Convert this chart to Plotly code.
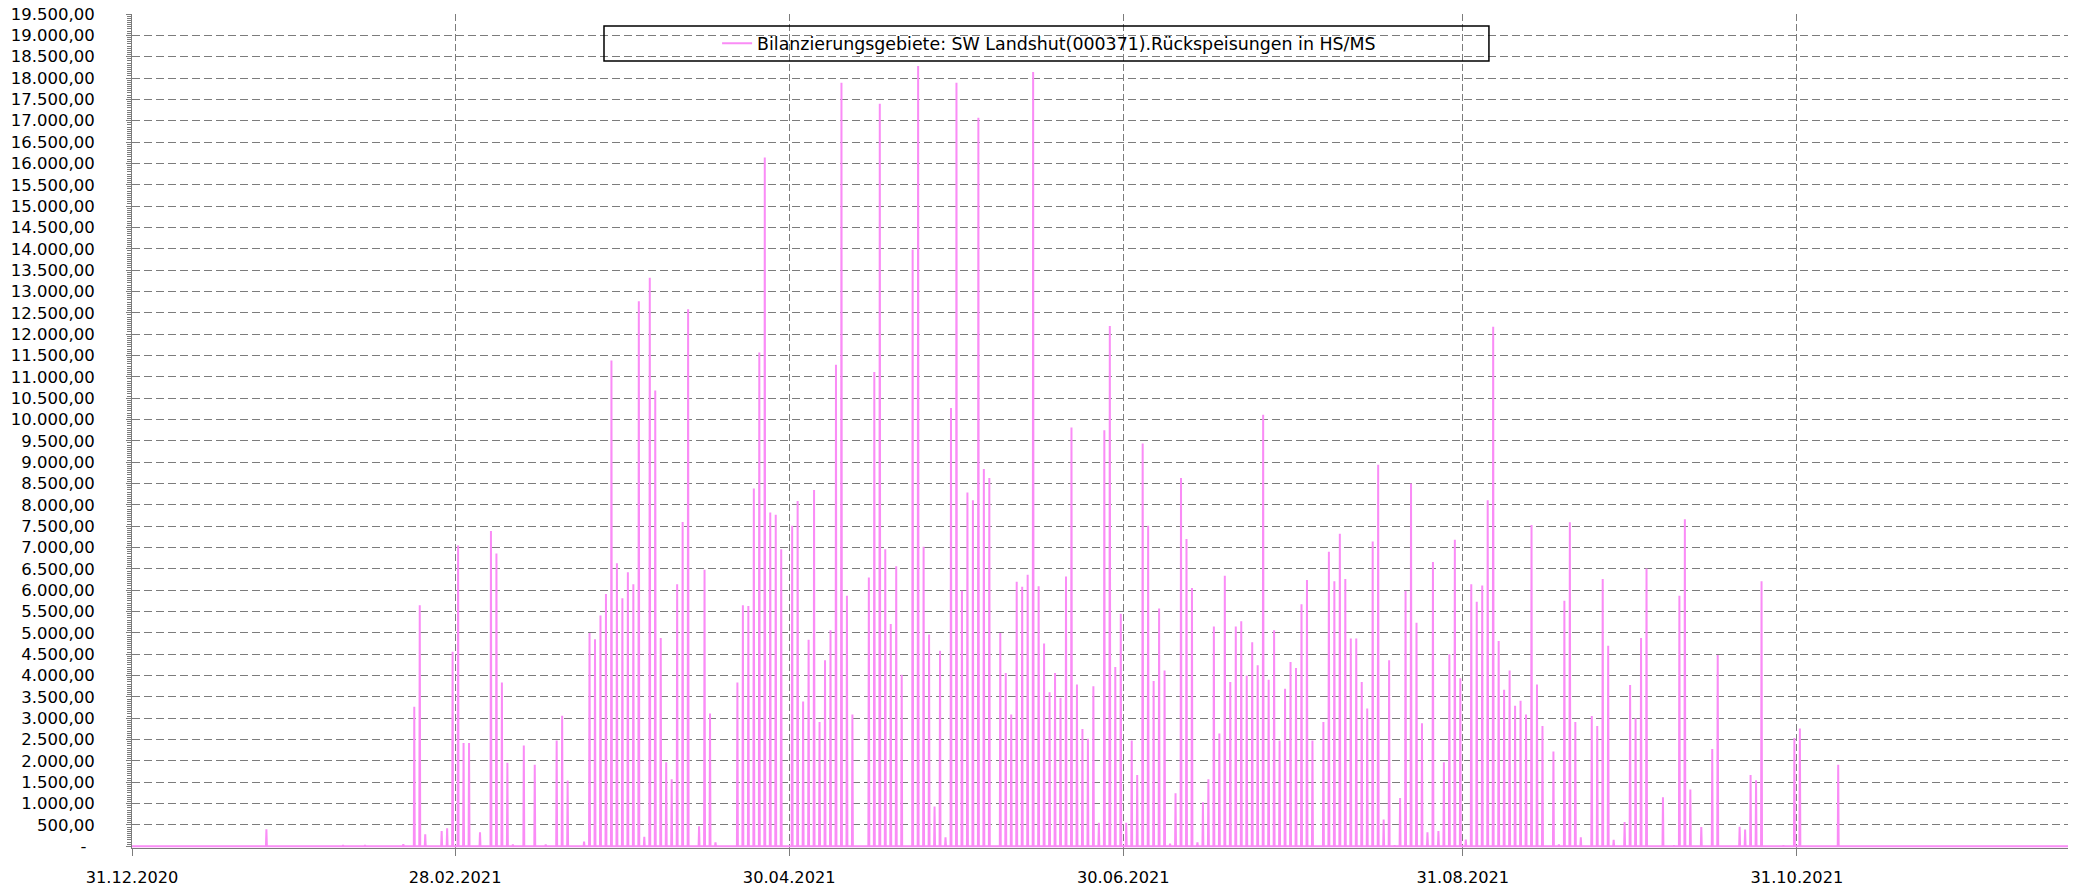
import datetime as dt
import plotly.graph_objects as go

# ---------------- data: daily peak feed-back values (kW) per month ----------------
series_name = "Bilanzierungsgebiete: SW Landshut(000371).Rückspeisungen in HS/MS"

axis_start = "2020-12-31 00:00"
axis_end = "2021-12-19 12:00"

jan_2021 = [0, 0, 0, 0, 0, 0, 0, 0, 0, 0, 0, 0, 0, 0, 0, 0, 0, 0, 0, 0,
            0, 0, 0, 400, 0, 0, 0, 0, 0, 0, 0]
feb_2021 = [0, 0, 0, 0, 0, 0, 30, 0, 0, 0, 30, 0, 0, 0, 0, 0, 0, 50, 0, 3270,
            5650, 280, 0, 0, 360, 420, 4560, 7050]
mar_2021 = [2420, 2420, 0, 330, 0, 7390, 6860, 3840, 1960, 40, 0, 2360, 0, 1910, 0,
            40, 0, 2480, 3060, 1540, 0, 0, 110, 5000, 4850, 5410, 5910, 11380, 6630, 5810, 6420]
apr_2021 = [6140, 12770, 220, 13320, 10680, 4880, 1970, 1570, 6140, 7600, 12580, 0, 470, 6480, 3110,
            90, 0, 0, 0, 3840, 5650, 5630, 8380, 11570, 16140, 7820, 7770, 6960, 0, 7510]
may_2021 = [8090, 3390, 4840, 8350, 2910, 4360, 5060, 11280, 17890, 5870, 3090, 0, 0, 6300, 11110,
            17400, 6960, 5210, 6560, 4020, 0, 13980, 18280, 7020, 4960, 930, 4580, 210, 10270, 17890, 5990]
jun_2021 = [8290, 8110, 17070, 8840, 8630, 0, 5000, 4060, 3090, 6200, 6080, 6360, 18140, 6090, 4750,
            3610, 4060, 3480, 6320, 9810, 3790, 2750, 2520, 3750, 550, 9750, 12190, 4200, 5450, 550]
jul_2021 = [2480, 1670, 9440, 7510, 3870, 5570, 4120, 60, 1240, 8630, 7200, 6050, 90, 1030, 1570,
            5150, 2640, 6340, 3850, 5150, 5270, 4000, 4780, 4240, 10110, 3900, 5060, 2480, 3690, 4320, 4180]
aug_2021 = [5670, 6240, 2480, 0, 2910, 6900, 6210, 7320, 6260, 4870, 4870, 3850, 3230, 7140, 8940,
            630, 4360, 20, 1130, 5990, 8500, 5240, 2880, 330, 6660, 360, 1970, 4500, 7180, 3940, 160]
sep_2021 = [6140, 5730, 6110, 8110, 12170, 4810, 3670, 4120, 3290, 3410, 3090, 7530, 3790, 2820, 0,
            2220, 40, 5750, 7590, 2910, 210, 0, 3050, 2820, 6260, 4700, 150, 0, 570, 3780]
oct_2021 = [3000, 4880, 6510, 0, 0, 1150, 0, 20, 5870, 7660, 1330, 0, 450, 0, 2280,
            4480, 0, 0, 0, 460, 390, 1670, 1550, 6210, 0, 0, 0, 20, 0, 2540, 2760]
nov_2021 = [0, 0, 0, 0, 0, 0, 1910, 0, 0, 0, 0, 0, 0, 0, 0, 0, 0, 0, 0, 0,
            0, 0, 0, 0, 0, 0, 0, 0, 0, 0]
dec_2021 = [0, 0, 0, 0, 0, 0, 0, 0, 0, 0, 0, 0, 0, 0, 0, 0, 0, 0, 0]

months = [(2021, 1, jan_2021), (2021, 2, feb_2021), (2021, 3, mar_2021), (2021, 4, apr_2021),
          (2021, 5, may_2021), (2021, 6, jun_2021), (2021, 7, jul_2021), (2021, 8, aug_2021),
          (2021, 9, sep_2021), (2021, 10, oct_2021), (2021, 11, nov_2021), (2021, 12, dec_2021)]

x_tick_dates = ["2020-12-31", "2021-02-28", "2021-04-30", "2021-06-30", "2021-08-31", "2021-10-31"]
x_tick_labels = ["31.12.2020", "28.02.2021", "30.04.2021", "30.06.2021", "31.08.2021", "31.10.2021"]

y_tick_values = list(range(0, 19501, 500))


def de_format(v):
    if v == 0:
        return "-\u2002"
    s = f"{v:,.2f}"
    return s.replace(",", "X").replace(".", ",").replace("X", ".")


y_tick_labels = [de_format(v) for v in y_tick_values]

# ---------------- build the line (zero baseline, one peak per day) ----------------
xs = [dt.datetime.fromisoformat(axis_start)]
ys = [0]
for yr, mo, vals in months:
    for i, v in enumerate(vals):
        if v > 0:
            d = dt.datetime(yr, mo, i + 1)
            xs += [d + dt.timedelta(hours=11), d + dt.timedelta(hours=13), d + dt.timedelta(hours=15)]
            ys += [0, v, 0]
xs.append(dt.datetime.fromisoformat(axis_end))
ys.append(0)

LINE_COLOR = "#FA8CF6"
GRID = "#7C7C7C"
FONT = "DejaVu Sans"

fig = go.Figure()
fig.add_trace(go.Scatter(x=xs, y=ys, mode="lines", name=series_name,
                         line=dict(color=LINE_COLOR, width=2), showlegend=True,
                         hoverinfo="skip"))

fig.update_layout(
    width=2082, height=891,
    margin=dict(l=132, r=14, t=14, b=43, autoexpand=False),
    paper_bgcolor="white", plot_bgcolor="white",
    font=dict(family=FONT, color="black"),
    showlegend=True,
    legend=dict(x=0.4737, xanchor="center", y=0.9646, yanchor="middle",
                bgcolor="rgba(0,0,0,0)", borderwidth=0,
                font=dict(family=FONT, size=17.4, color="black")),
    xaxis=dict(
        type="date", range=[axis_start, axis_end], automargin=False,
        tickmode="array", tickvals=x_tick_dates, ticktext=x_tick_labels,
        tickfont=dict(family=FONT, size=16.2, color="black"),
        ticks="outside", ticklen=7, tickcolor=GRID,
        showgrid=True, gridcolor=GRID, griddash="7px,3px", gridwidth=1,
        showline=True, linecolor=GRID, linewidth=1,
        zeroline=False, ticklabelstandoff=8,
    ),
    yaxis=dict(
        range=[-40, 19500], automargin=False,
        tickmode="array", tickvals=y_tick_values, ticktext=y_tick_labels,
        tickfont=dict(family=FONT, size=16.5, color="black"),
        ticks="outside", ticklen=5, tickcolor=GRID,
        minor=dict(dtick=50, tick0=0, ticks="outside", ticklen=4, tickcolor=GRID, showgrid=False),
        showgrid=True, gridcolor=GRID, griddash="8px,4px", gridwidth=1,
        showline=True, linecolor=GRID, linewidth=1,
        zeroline=False, ticklabelstandoff=28,
    ),
    shapes=[dict(type="rect", xref="paper", yref="paper",
                 x0=0.2438, x1=0.7009, y0=0.9436, y1=0.9856,
                 line=dict(color="black", width=1.5), fillcolor="rgba(0,0,0,0)", layer="above")],
)

fig.write_html(
    "out.html",
    config={"displayModeBar": False},
    post_script="document.body.style.margin='0';document.body.style.padding='0';"
                "document.documentElement.style.overflow='hidden';",
)
